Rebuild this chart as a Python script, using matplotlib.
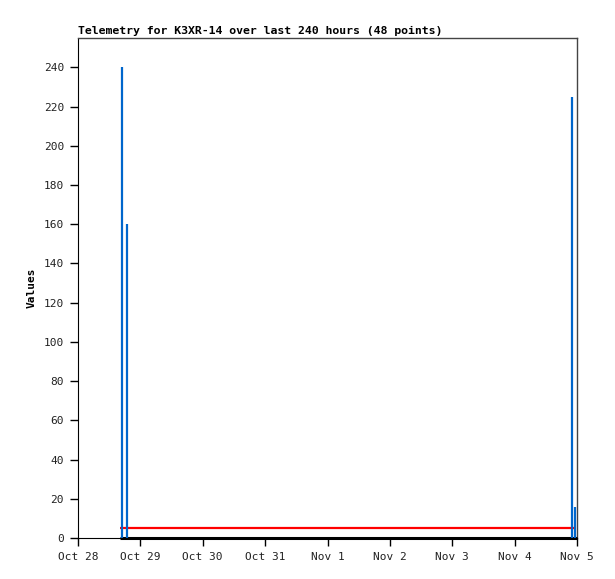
import pandas as pd
import matplotlib
matplotlib.use('Agg')
import matplotlib.pyplot as plt

plt.rcParams['font.family'] = ['DejaVu Sans Mono']

# impulse samples (time, value)
spike_times = pd.to_datetime(['2023-10-28 17:00', '2023-10-28 18:50',
                              '2023-11-04 22:00', '2023-11-04 23:10'])
spike_values = [240, 160, 225, 16]
# span of the baseline series
base_start = pd.Timestamp('2023-10-28 16:15')
base_end = pd.Timestamp('2023-11-04 22:50')
zero_end = pd.Timestamp('2023-11-05 00:00')
red_level = 5
day_ticks = pd.date_range('2023-10-28', '2023-11-05', freq='D')
day_labels = ['Oct 28', 'Oct 29', 'Oct 30', 'Oct 31', 'Nov 1', 'Nov 2', 'Nov 3', 'Nov 4', 'Nov 5']

fig = plt.figure(figsize=(6.15, 5.79), dpi=100)
ax = fig.add_axes([78 / 615, 1 - 538 / 579, 499 / 615, 500 / 579])

ax.hlines(red_level, base_start, base_end, colors='#ff0000', linewidth=1.6, zorder=3)
ax.hlines(0, base_start, zero_end, colors='black', linewidth=2.2, zorder=4, clip_on=False)
ax.vlines(spike_times, 0, spike_values, colors='#0066cc', linewidth=1.6, zorder=5)

ax.set_xlim(day_ticks[0], day_ticks[-1])
ax.set_ylim(0, 255)
ax.set_xticks(day_ticks)
ax.set_xticklabels(day_labels)
ax.set_yticks(range(0, 241, 20))
ax.tick_params(axis='both', labelsize=8, length=6, width=1, color='black', labelcolor='#222222')
ax.tick_params(axis='x', pad=4)
ax.tick_params(axis='y', pad=4)

for s in ['top', 'right']:
    ax.spines[s].set_color('#444444')
    ax.spines[s].set_linewidth(1)
ax.spines['left'].set_color('black')
ax.spines['bottom'].set_color('black')

ax.set_ylabel('Values', fontsize=8, fontweight='bold', labelpad=5)
ax.set_title('Telemetry for K3XR-14 over last 240 hours (48 points)', fontsize=8.25,
             fontweight='bold', loc='left', pad=3)

fig.savefig('out.png', dpi=100)
